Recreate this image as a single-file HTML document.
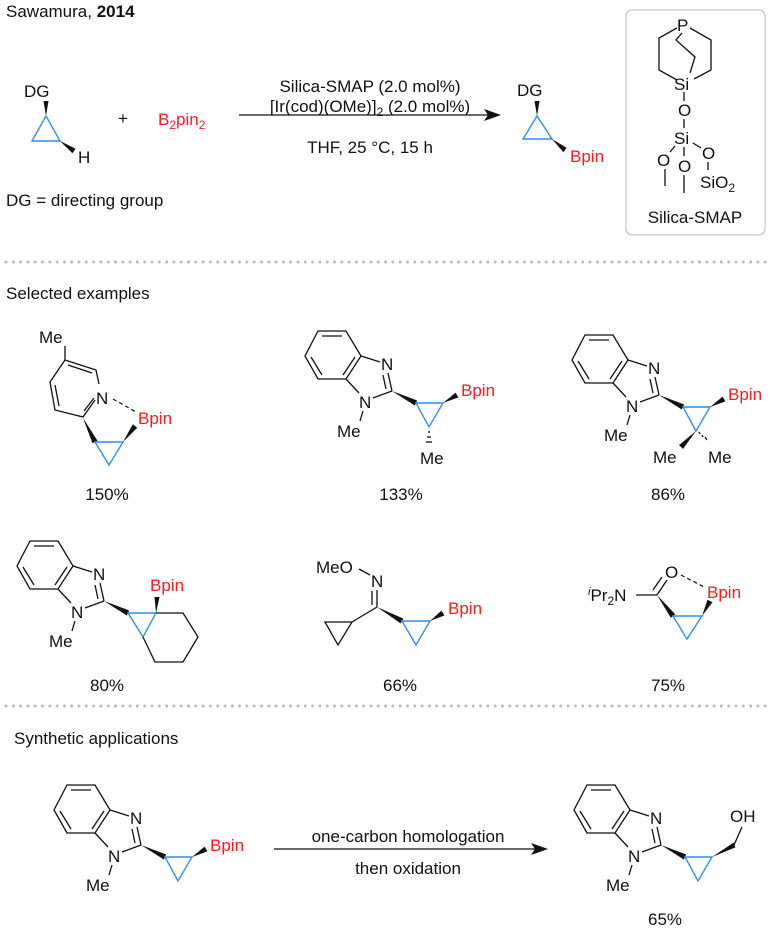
<!DOCTYPE html>
<html><head><meta charset="utf-8"><style>
html,body{margin:0;padding:0;background:#fff}
svg{display:block}
text{font-family:"Liberation Sans",Arial,sans-serif;font-size:17px;fill:#111}
.r{fill:#ff1a1a}
.b{stroke:#111;stroke-width:1.3;fill:none}
.c{stroke:#2f8fef;stroke-width:1.4;fill:none}
.w{fill:#111}
.d{stroke:#bbb;stroke-width:3;stroke-linecap:round;stroke-dasharray:0 7.3}
</style></head><body>
<svg width="777" height="932" viewBox="0 0 777 932" xmlns="http://www.w3.org/2000/svg">
<defs>
<g id="bzi">
<polygon class="b" points="585,335 613,335 628,360 613,383 585,383 572,360"/>
<line class="b" x1="589" y1="340" x2="609" y2="340"/>
<line class="b" x1="622" y1="361" x2="610" y2="379"/>
<line class="b" x1="578" y1="361" x2="589" y2="379"/>
<line class="b" x1="628" y1="360" x2="647" y2="366"/>
<text x="648" y="374">N</text>
<line class="b" x1="655" y1="377" x2="659" y2="395"/>
<line class="b" x1="650" y1="379" x2="653" y2="393"/>
<line class="b" x1="613" y1="383" x2="626" y2="397"/>
<text x="626" y="412">N</text>
<line class="b" x1="659" y1="395" x2="640" y2="402"/>
<line class="b" x1="630" y1="415" x2="627" y2="425"/>
<text x="604" y="441">Me</text>
<polygon class="w" points="659,395 681.8,409.5 684.2,404.5"/>
</g>
</defs>

<text x="6" y="17">Sawamura, <tspan font-weight="bold">2014</tspan></text>

<!-- reactant -->
<text x="24" y="97">DG</text>
<polygon class="w" points="46,116 43.5,101 48.5,101"/>
<polygon class="c" points="46,116 32,141 60,141"/>
<polygon class="w" points="60,141 72.4,153.3 75.6,148.7"/>
<text x="78" y="163">H</text>
<text x="118" y="124">+</text>
<text x="158" y="125" class="r">B<tspan font-size="12" dy="4">2</tspan><tspan dy="-4">pin</tspan><tspan font-size="12" dy="4">2</tspan></text>

<text x="370" y="92" text-anchor="middle">Silica-SMAP (2.0 mol%)</text>
<text x="370" y="112" text-anchor="middle">[Ir(cod)(OMe)]<tspan font-size="12" dy="4">2</tspan><tspan dy="-4"> (2.0 mol%)</tspan></text>
<line class="b" x1="239" y1="115" x2="490" y2="115"/>
<polygon class="w" points="501,115 484,109 488,115 484,121"/>
<text x="370" y="153" text-anchor="middle">THF, 25 °C, 15 h</text>
<text x="6" y="206">DG = directing group</text>

<!-- product -->
<text x="517" y="96">DG</text>
<polygon class="w" points="537,116 534.5,101 539.5,101"/>
<polygon class="c" points="537,116 523,139 552,139"/>
<polygon class="w" points="552,139 563.4,152.3 566.6,147.7"/>
<text x="570" y="162" class="r">Bpin</text>

<!-- silica smap box -->
<rect x="626" y="10" width="139" height="225" rx="6" fill="none" stroke="#bbb" stroke-width="1"/>
<text x="677" y="31">P</text>
<polyline class="b" points="677,28 659,38 659,70 677,80"/>
<polyline class="b" points="690,28 711,40 711,70 694,79"/>
<polyline class="b" points="682,33 676,40 695,57 690,73"/>
<text x="674" y="90">Si</text>
<line class="b" x1="684" y1="92" x2="684" y2="101"/>
<text x="678" y="116">O</text>
<line class="b" x1="684" y1="119" x2="684" y2="128"/>
<text x="674" y="144">Si</text>
<line class="b" x1="675" y1="146" x2="670" y2="152"/>
<text x="657" y="166">O</text>
<line class="b" x1="665" y1="169" x2="665" y2="186"/>
<line class="b" x1="684" y1="147" x2="684" y2="156"/>
<text x="678" y="172">O</text>
<line class="b" x1="684" y1="175" x2="684" y2="193"/>
<line class="b" x1="693" y1="143" x2="701" y2="148"/>
<text x="702" y="159">O</text>
<line class="b" x1="708" y1="162" x2="708" y2="170"/>
<text x="700" y="188">SiO<tspan font-size="12" dy="4">2</tspan></text>
<text x="695" y="223" text-anchor="middle">Silica-SMAP</text>

<line class="d" x1="6" y1="262" x2="771" y2="262"/>
<text x="6" y="299">Selected examples</text>

<!-- ex1 -->
<text x="39" y="343">Me</text>
<line class="b" x1="65" y1="346" x2="65" y2="360"/>
<polyline class="b" points="65,360 96,370 99,384"/>
<polyline class="b" points="95,400 83,417 55,410 50,382 65,360"/>
<line class="b" x1="68" y1="365" x2="92" y2="373"/>
<line class="b" x1="55" y1="385" x2="59" y2="406"/>
<line class="b" x1="84" y1="411" x2="94" y2="398"/>
<text x="96" y="404">N</text>
<line x1="113" y1="399" x2="136" y2="412" stroke="#111" stroke-width="1.2" stroke-dasharray="4 3"/>
<polygon class="w" points="83,418 92.5,443.3 97.5,440.7"/>
<polygon class="c" points="95,442 123,442 109,465"/>
<polygon class="w" points="123,442 137.2,427.7 132.8,424.3"/>
<text x="138" y="424" class="r">Bpin</text>
<text x="107" y="500" text-anchor="middle">150%</text>

<!-- ex2 -->
<g transform="translate(-267,-4)">
<use href="#bzi"/>
<polygon class="c" points="683,407 710,407 696,431"/>
<polygon class="w" points="710,407 725.4,401.4 722.6,396.6"/>
<text x="728" y="400" class="r">Bpin</text>
<g class="b"><line x1="695" y1="436" x2="697" y2="436"/><line x1="694" y1="441" x2="698" y2="441"/><line x1="693" y1="446" x2="699" y2="446"/></g>
<text x="687" y="468">Me</text>
</g>
<text x="401" y="500" text-anchor="middle">133%</text>

<!-- ex3 -->
<use href="#bzi"/>
<polygon class="c" points="683,407 710,407 696,431"/>
<polygon class="w" points="710,407 725.4,401.4 722.6,396.6"/>
<text x="728" y="400" class="r">Bpin</text>
<polygon class="w" points="696,431 683,448.9 679,445.1"/>
<text x="653" y="463">Me</text>
<g class="b"><line x1="699" y1="432" x2="700" y2="434"/><line x1="702" y1="435" x2="703" y2="437"/><line x1="705" y1="437" x2="707" y2="440"/></g>
<text x="708" y="463">Me</text>
<text x="668" y="500" text-anchor="middle">86%</text>

<line class="d" x1="6" y1="706" x2="771" y2="706"/>

<!-- ex4 -->
<g transform="translate(-555,206)"><use href="#bzi"/></g>
<polygon class="c" points="128,613 156,613 143,637"/>
<polygon class="w" points="156,613 154.5,597 159.5,597"/>
<text x="150" y="591" class="r">Bpin</text>
<polyline class="b" points="156,613 183,613 198,637 183,662 155,662 143,637"/>
<text x="107" y="691" text-anchor="middle">80%</text>

<!-- ex5 -->
<text x="316" y="573">MeO</text>
<line class="b" x1="359" y1="569" x2="370" y2="575"/>
<text x="371" y="587">N</text>
<line class="b" x1="377" y1="590" x2="377" y2="607"/>
<line class="b" x1="372" y1="591" x2="372" y2="605"/>
<line class="b" x1="377" y1="607" x2="352" y2="622"/>
<polygon class="b" points="325,622 352,622 338,645"/>
<polygon class="w" points="377,607 400.6,623.4 403.4,618.6"/>
<polygon class="c" points="402,621 430,621 416,645"/>
<polygon class="w" points="430,621 444.5,615.4 441.5,610.6"/>
<text x="448" y="614" class="r">Bpin</text>
<text x="400" y="691" text-anchor="middle">66%</text>

<!-- ex6 -->
<text x="588" y="601"><tspan font-size="11" font-style="italic" dy="-6">i</tspan><tspan dy="6">Pr</tspan><tspan font-size="12" dy="4">2</tspan><tspan dy="-4">N</tspan></text>
<line class="b" x1="636" y1="595" x2="657" y2="595"/>
<line class="b" x1="657" y1="595" x2="667" y2="580"/>
<line class="b" x1="653" y1="590" x2="662" y2="577"/>
<text x="665" y="578">O</text>
<line x1="681" y1="575" x2="706" y2="588" stroke="#111" stroke-width="1.2" stroke-dasharray="4 3"/>
<polygon class="w" points="657,595 670.8,617.7 675.2,614.3"/>
<polygon class="c" points="673,616 702,616 687,639"/>
<polygon class="w" points="702,616 712.5,602.3 707.5,599.7"/>
<text x="707" y="598" class="r">Bpin</text>
<text x="668" y="691" text-anchor="middle">75%</text>

<!-- applications -->
<text x="14" y="744">Synthetic applications</text>
<g transform="translate(-518,450)">
<use href="#bzi"/>
<polygon class="c" points="683,407 710,407 696,431"/>
<polygon class="w" points="710,407 725.4,401.4 722.6,396.6"/>
<text x="728" y="401" class="r">Bpin</text>
</g>
<line class="b" x1="274" y1="849" x2="537" y2="849"/>
<polygon class="w" points="548,849 531,843 535,849 531,855"/>
<text x="408" y="842" text-anchor="middle">one-carbon homologation</text>
<text x="408" y="874" text-anchor="middle">then oxidation</text>
<g transform="translate(2,450)">
<use href="#bzi"/>
<polygon class="c" points="683,407 710,407 696,431"/>
<polygon class="w" points="710,407 733.4,397.4 731.6,392.6"/>
<line class="b" x1="732" y1="395" x2="740" y2="377"/>
<text x="728" y="372">OH</text>
</g>
<text x="665" y="925" text-anchor="middle">65%</text>
</svg>
</body></html>
